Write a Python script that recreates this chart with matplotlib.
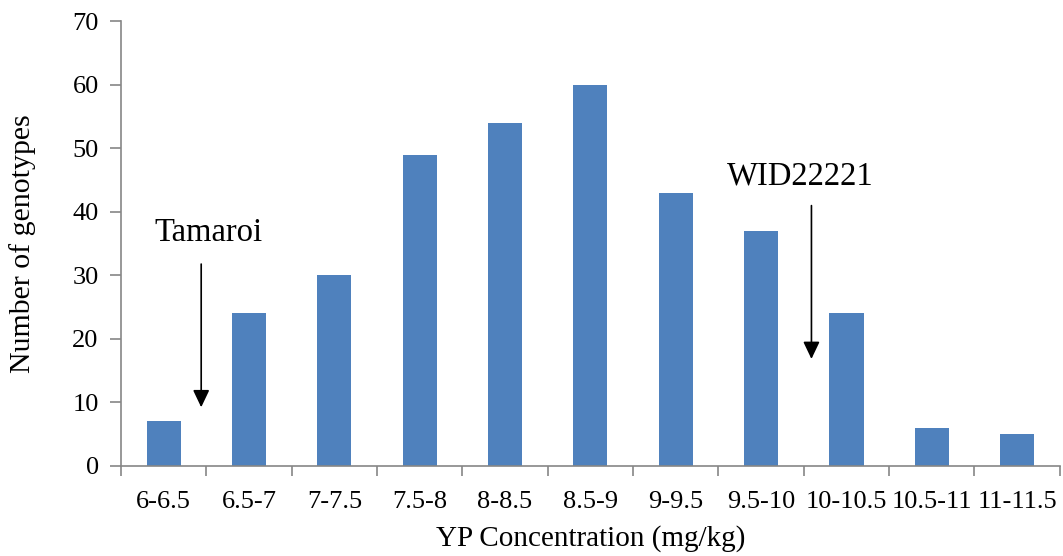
import matplotlib
matplotlib.use("Agg")
import matplotlib.pyplot as plt
import numpy as np

categories = ["6-6.5", "6.5-7", "7-7.5", "7.5-8", "8-8.5", "8.5-9",
              "9-9.5", "9.5-10", "10-10.5", "10.5-11", "11-11.5"]
counts = [7, 24, 30, 49, 54, 60, 43, 37, 24, 6, 5]
y_ticks = [0, 10, 20, 30, 40, 50, 60, 70]

plt.rcParams["font.family"] = ["Liberation Serif", "DejaVu Serif"]

fig = plt.figure(figsize=(10.63, 5.56), dpi=100)
ax = fig.add_axes([0.1138, 0.1619, 0.8832, 0.8003])

x = np.arange(len(categories))
ax.bar(x, counts, width=0.4, color="#4F81BD", zorder=2)

ax.set_xlim(-0.5, len(categories) - 0.5)
ax.set_ylim(0, 70)
ax.set_yticks(y_ticks)

# Category labels centred under bars, ticks at category boundaries
ax.set_xticks(x)
ax.set_xticklabels(categories, fontsize=19)
ax.set_xticks(np.arange(-0.5, len(categories)), minor=True)
ax.tick_params(axis="x", which="major", length=0, pad=18)
ax.tick_params(axis="x", which="minor", length=7, width=1.2, color="#868686")
ax.tick_params(axis="y", length=8, width=1.2, color="#868686", labelsize=19, pad=8)

for side in ("top", "right"):
    ax.spines[side].set_visible(False)
for side in ("left", "bottom"):
    ax.spines[side].set_color("#868686")
    ax.spines[side].set_linewidth(1.2)

ax.set_xlabel("YP Concentration (mg/kg)", fontsize=21, labelpad=9)
ax.set_ylabel("Number of genotypes", fontsize=21.5, labelpad=26)

arrow = dict(arrowstyle="-|>,head_length=1.05,head_width=0.5", color="black", lw=1.2)
ax.annotate("", xy=(0.44, 8.8), xytext=(0.44, 32.2), arrowprops=arrow)
ax.text(0.52, 36.7, "Tamaroi", fontsize=23.5, ha="center", va="center")
ax.annotate("", xy=(7.59, 16.4), xytext=(7.59, 41.4), arrowprops=arrow)
ax.text(7.46, 45.6, "WID22221", fontsize=23.5, ha="center", va="center")

fig.savefig("out.png", dpi=100)
